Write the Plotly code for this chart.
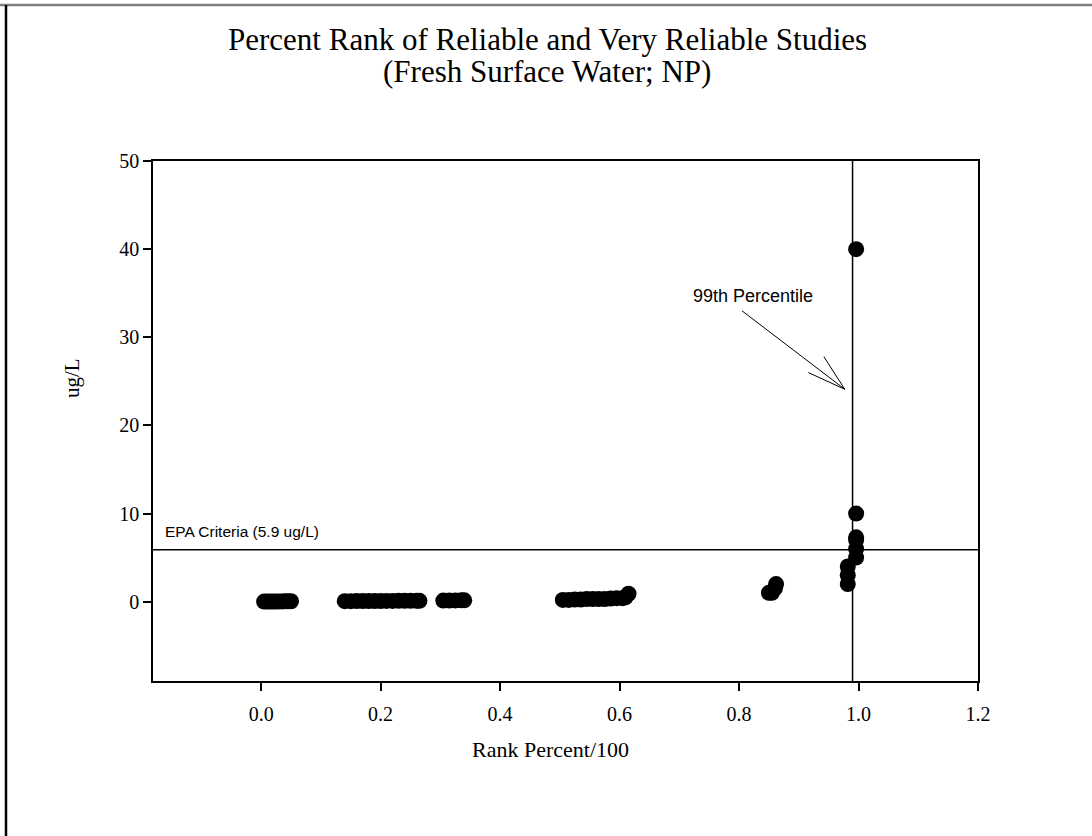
import plotly.graph_objects as go

# ---- data ----
rank_x = [0.005, 0.01, 0.015, 0.02, 0.025, 0.03, 0.035, 0.04, 0.045, 0.05,
          0.14, 0.15, 0.16, 0.17, 0.18, 0.19, 0.20, 0.21, 0.22, 0.23, 0.24, 0.25, 0.26, 0.265,
          0.305, 0.315, 0.325, 0.335, 0.34,
          0.505, 0.515, 0.525, 0.535, 0.545, 0.555, 0.565, 0.575, 0.585, 0.595, 0.605, 0.61, 0.615,
          0.85, 0.855, 0.86, 0.862,
          0.982, 0.982, 0.982,
          0.996, 0.996, 0.996, 0.996, 0.996, 0.996]
conc_y = [0.01, 0.01, 0.02, 0.02, 0.02, 0.03, 0.03, 0.04, 0.05, 0.05,
          0.06, 0.06, 0.07, 0.07, 0.08, 0.08, 0.08, 0.09, 0.09, 0.1, 0.1, 0.1, 0.1, 0.1,
          0.12, 0.13, 0.14, 0.15, 0.15,
          0.2, 0.2, 0.25, 0.25, 0.3, 0.3, 0.3, 0.3, 0.35, 0.4, 0.4, 0.5, 0.9,
          1.0, 1.0, 1.5, 2.0,
          2.0, 3.0, 4.0,
          5.0, 6.0, 7.0, 7.3, 10.0, 40.0]

epa_criteria = 5.9
pct99 = 0.99
x_ticks = [0.0, 0.2, 0.4, 0.6, 0.8, 1.0, 1.2]
y_ticks = [0, 10, 20, 30, 40, 50]

SERIF = "Liberation Serif, Times New Roman, serif"
SANS = "Liberation Sans, Arial, sans-serif"

# plot area in page pixels
L, R, T, B = 153, 978, 161, 681
W, H = 1092, 836


def px_x(px):
    return (px - L) / (R - L)


def px_y(py):
    return (B - py) / (B - T)


fig = go.Figure()
fig.add_trace(go.Scatter(x=rank_x, y=conc_y, mode="markers",
                         marker=dict(color="black", size=16, line=dict(width=0)),
                         showlegend=False, cliponaxis=False))

fig.add_hline(y=epa_criteria, line=dict(color="black", width=1.5), layer="below")
fig.add_vline(x=pct99, line=dict(color="black", width=1.5), layer="below")

# arrow shaft and open head
fig.add_shape(type="line", x0=0.805, y0=33.0, x1=0.977, y1=24.1,
              line=dict(color="black", width=1))
fig.add_shape(type="path", path="M 0.942 27.8 L 0.977 24.1 L 0.916 26.0",
              line=dict(color="black", width=1))

# page frame
fig.add_shape(type="line", xref="paper", yref="paper", x0=px_x(0), x1=px_x(W),
              y0=px_y(5), y1=px_y(5), line=dict(color="#7f7f7f", width=2.5))
fig.add_shape(type="line", xref="paper", yref="paper", x0=px_x(6), x1=px_x(6),
              y0=px_y(H), y1=px_y(5), line=dict(color="black", width=2.5))

# titles
fig.add_annotation(xref="paper", yref="paper", x=px_x(547), y=px_y(40),
                   xanchor="center", yanchor="middle",
                   text="Percent Rank of Reliable and Very Reliable Studies", showarrow=False,
                   font=dict(family=SERIF, size=31, color="black"))
fig.add_annotation(xref="paper", yref="paper", x=px_x(547), y=px_y(72),
                   xanchor="center", yanchor="middle",
                   text="(Fresh Surface Water; NP)", showarrow=False,
                   font=dict(family=SERIF, size=31, color="black"))
fig.add_annotation(xref="paper", yref="paper", x=px_x(550), y=px_y(749),
                   xanchor="center", yanchor="middle",
                   text="Rank Percent/100", showarrow=False,
                   font=dict(family=SERIF, size=22, color="black"))
fig.add_annotation(xref="paper", yref="paper", x=px_x(72), y=px_y(378), text="ug/L",
                   xanchor="center", yanchor="middle",
                   showarrow=False, textangle=-90,
                   font=dict(family=SERIF, size=21, color="black"))

fig.add_annotation(x=0.823, y=34.7, text="99th Percentile", showarrow=False,
                   xanchor="center", yanchor="middle",
                   font=dict(family=SANS, size=18, color="black"))
fig.add_annotation(x=-0.164, y=8.0, text="EPA Criteria (5.9 ug/L)", showarrow=False,
                   xanchor="left", yanchor="middle",
                   font=dict(family=SANS, size=15.5, color="black"))

fig.update_layout(
    width=W, height=H,
    margin=dict(l=L, r=W - R, t=T, b=H - B, pad=0),
    paper_bgcolor="white", plot_bgcolor="white",
    xaxis=dict(range=[-0.181, 1.2], tickvals=x_ticks, ticktext=[f"{v:.1f}" for v in x_ticks],
               ticks="outside", ticklen=8, tickwidth=1.5, tickcolor="black",
               showline=True, linecolor="black", linewidth=1.5, mirror=True,
               showgrid=False, zeroline=False, ticklabelstandoff=6,
               tickfont=dict(family=SERIF, size=20, color="black")),
    yaxis=dict(range=[-9, 50], tickvals=y_ticks,
               ticks="outside", ticklen=8, tickwidth=1.5, tickcolor="black",
               showline=True, linecolor="black", linewidth=1.5, mirror=True,
               showgrid=False, zeroline=False,
               tickfont=dict(family=SERIF, size=20, color="black")),
)

fig.write_html("out.html", config={"displayModeBar": False},
               post_script="document.body.style.margin='0px';document.body.style.overflow='hidden';")
